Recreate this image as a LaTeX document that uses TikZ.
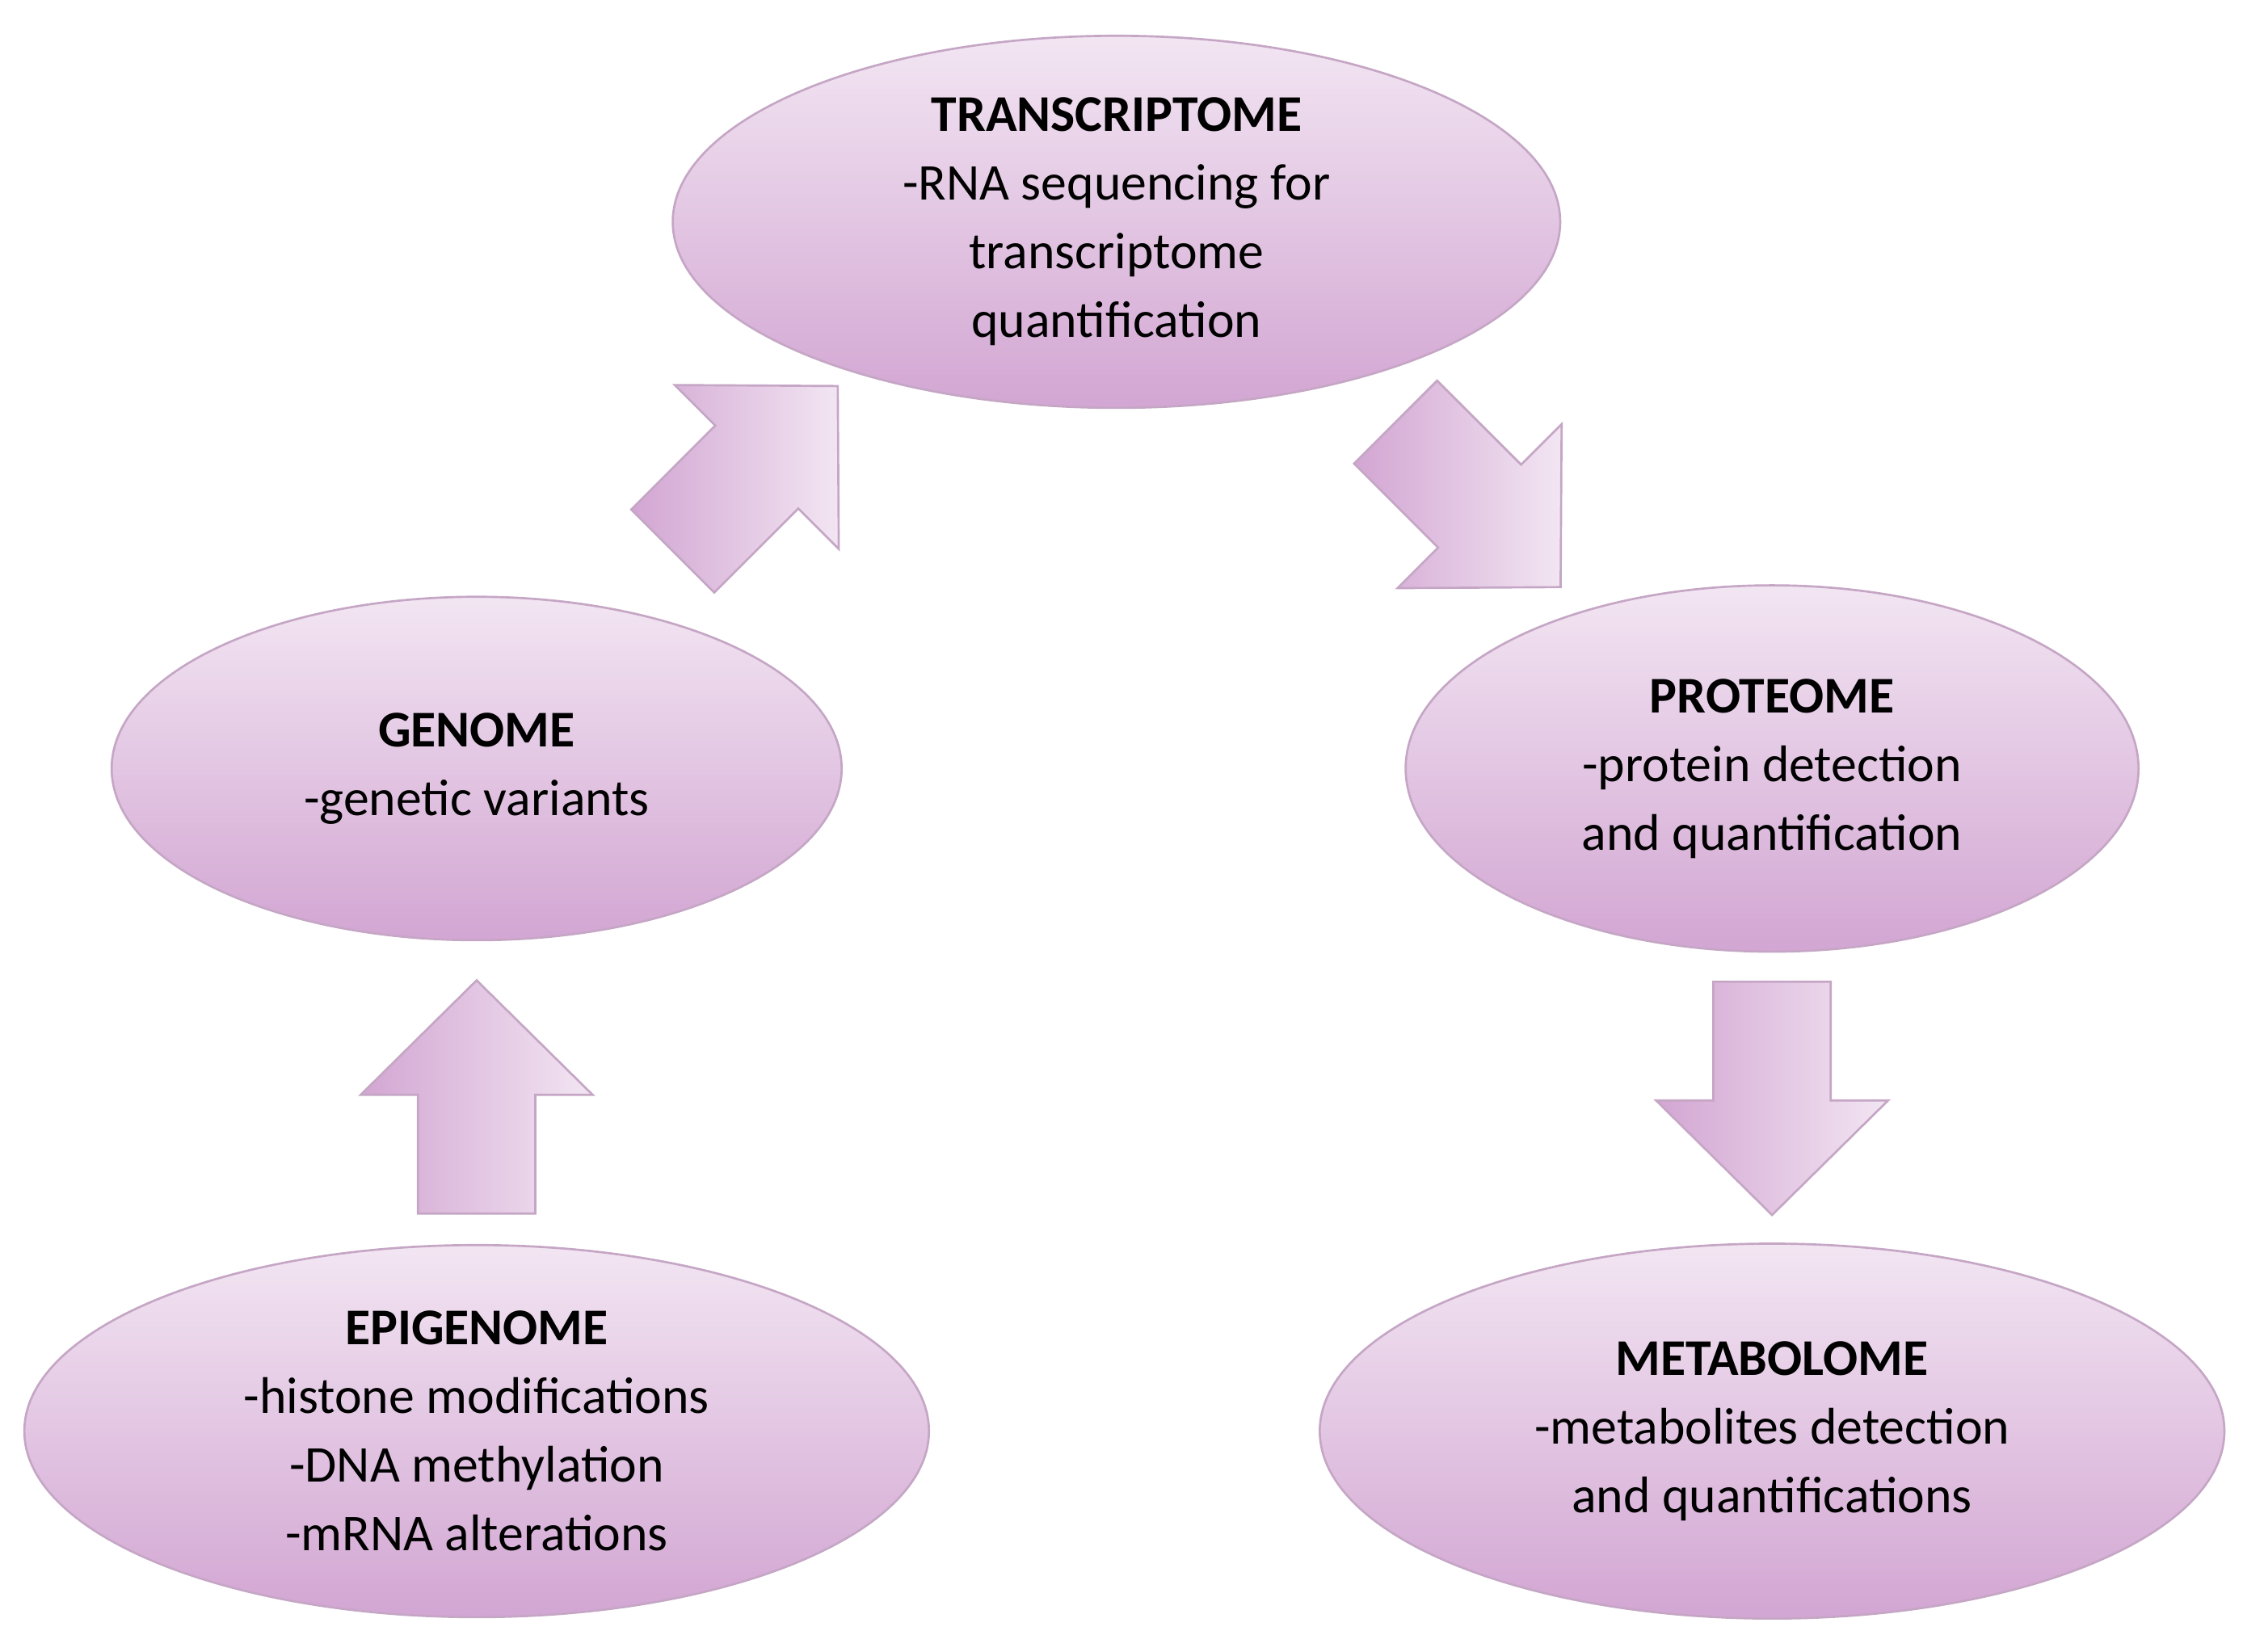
\documentclass[tikz,border=0pt]{standalone}
\usepackage{fontspec}
\setmainfont{Carlito}
\usetikzlibrary{shapes.geometric}
\begin{document}
\begin{tikzpicture}[x=1pt,y=-1pt,
  ell/.style={ellipse,draw=black!30!violet!35,line width=1.5pt,top color=violet!10,bottom color=violet!35,
    align=center,font=\fontsize{36}{48}\selectfont,inner sep=0pt},
  blk/.style={draw=black!30!violet!35,line width=1.5pt,left color=violet!35,right color=violet!10}]
\useasboundingbox (0,0) rectangle (1567,1154);
\node[ell,minimum width=620,minimum height=260] (t) at (780,155) {\textbf{TRANSCRIPTOME}\\-RNA sequencing for\\transcriptome\\quantification};
\node[ell,minimum width=510,minimum height=240] (g) at (333,537) {\textbf{GENOME}\\-genetic variants};
\node[ell,minimum width=632,minimum height=260] (e) at (333,1000) {\textbf{EPIGENOME}\\-histone modifications\\-DNA methylation\\-mRNA alterations};
\node[ell,minimum width=512,minimum height=256] (p) at (1238,537) {\textbf{PROTEOME}\\-protein detection\\and quantification};
\node[ell,minimum width=632,minimum height=262] (m) at (1238,1000) {\textbf{METABOLOME}\\-metabolites detection\\and quantifications};
\def\blockarrow#1#2{\begin{scope}[shift={#1},rotate=#2]
 \path[blk] (0,-41)--(83,-41)--(83,-81)--(163,0)--(83,81)--(83,41)--(0,41)--cycle;
\end{scope}}
\blockarrow{(333,848)}{90}
\blockarrow{(1238,686)}{-90}
\blockarrow{(470,385)}{45}
\blockarrow{(975,295)}{-45}
\end{tikzpicture}
\end{document}
